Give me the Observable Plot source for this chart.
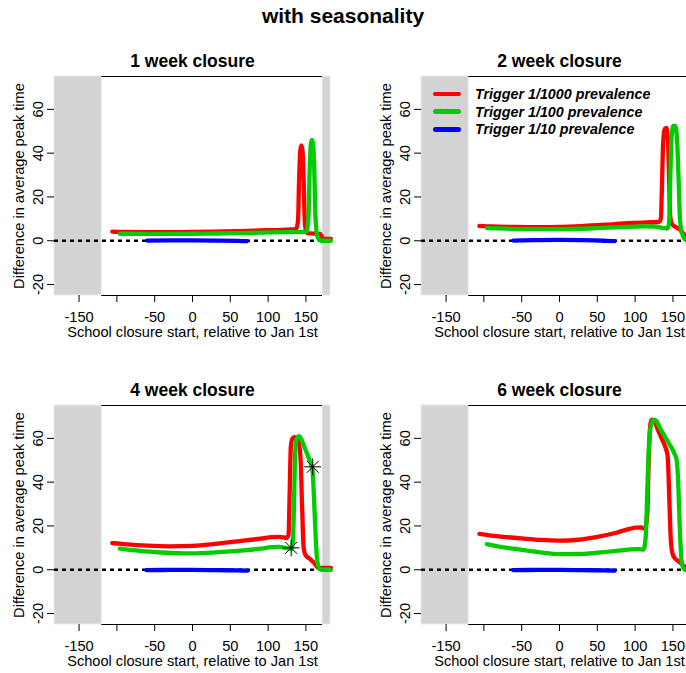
<!DOCTYPE html>
<html><head><meta charset="utf-8">
<script src="https://cdn.jsdelivr.net/npm/d3@7"></script>
<script src="https://cdn.jsdelivr.net/npm/@observablehq/plot@0.6"></script>
<style>
body{margin:0;background:#fff;}
#wrap{position:relative;width:686px;height:673px;overflow:hidden;background:#fff;font-family:"Liberation Sans",Arial,Helvetica,sans-serif;color:#000;}
.panel{position:absolute;}
#title{position:absolute;left:0;width:686px;top:5px;text-align:center;font-weight:bold;font-size:21px;line-height:21px;}
#legend{position:absolute;left:433px;top:85px;}
.lg{display:flex;align-items:center;height:17.8px;}
.sw{width:28px;height:4.5px;border-radius:2.5px;margin-right:14px;}
.lt{font-weight:bold;font-style:italic;font-size:14.3px;white-space:nowrap;}
</style></head><body>
<div id="wrap"><div id="title">with seasonality</div></div>
<script>
// ---- text / categories ----
const panelTitles = ["1 week closure", "2 week closure", "4 week closure", "6 week closure"];
const seriesNames = ["Trigger 1/1000 prevalence", "Trigger 1/100 prevalence", "Trigger 1/10 prevalence"];
const seriesColors = ["#ff0000", "#00cd00", "#0000ff"];
const xLabel = "School closure start, relative to Jan 1st";
const yLabel = "Difference in average peak time";
const xTicks = [-150, -100, -50, 0, 50, 100, 150];
const xTickLabels = ["-150", "", "-50", "0", "50", "100", "150"];
const yTicks = [-20, 0, 20, 40, 60];
const xDomain = [-182.5, 182.5];
const yDomain = [-25, 75];
const shadeLeft = [-182.5, -120];
const shadeRight = [172, 182.5];

// ---- 1 week closure ----
const red1 = [[-106,4.2],[-90,4.0],[-60,3.9],[-30,3.9],[0,4.0],[30,4.2],[60,4.4],[90,4.7],[120,5.0],[137,5.3],[139.5,9],[141,28],[142.5,41],[144,43.5],[145.5,41],[147,28],[148.5,9],[150.5,4],[153,3.4],[160,3.3],[169,3.1],[172,1.2],[176,0.9],[183,0.9]];
const green1 = [[-96,3.2],[-60,3.1],[-30,3.1],[0,3.2],[30,3.3],[60,3.5],[90,3.7],[120,3.9],[145,4.0],[151,4.3],[153.5,12],[155,33],[156.5,44],[158,46],[159.5,44],[161,33],[162.5,12],[164.5,3],[167,0.6],[170,0],[183,0]];
const blue1 = [[-60,0.1],[-30,0.2],[0,0.2],[30,0.1],[60,-0.1],[72,-0.2]];

// ---- 2 week closure ----
const red2 = [[-106,6.8],[-90,6.5],[-60,6.3],[-30,6.2],[0,6.3],[30,6.7],[60,7.3],[90,8.0],[115,8.4],[131,8.5],[134,10],[135.5,25],[137,44],[139,51],[141.5,51.5],[143.5,46],[145,28],[146.5,11],[149,7.5],[155,6],[160,4.8],[165,2.8],[170,1.2]];
const green2 = [[-96,5.8],[-70,5.5],[-40,5.3],[0,5.3],[40,5.6],[80,6.2],[110,6.6],[125,6.5],[138,5.8],[143,5.6],[145,9],[146.5,28],[148,46],[150.5,52.5],[153,52.5],[155.5,46],[157.5,28],[159.5,9],[162,3.5],[166,0.6],[170,0],[183,0]];
const blue2 = [[-61,0.1],[-30,0.3],[0,0.4],[30,0.3],[60,0],[73,-0.2]];

// ---- 4 week closure ----
const red4 = [[-106,12.2],[-90,11.7],[-60,11.0],[-30,10.7],[0,10.9],[30,11.8],[60,13.0],[90,14.2],[105,14.9],[115,15.0],[124,14.5],[127,16],[128.5,35],[130,56],[132,59.8],[135,60.5],[138,60],[141,57],[143,50],[145,28],[147,10],[149,7],[155,5],[161,3],[165,1.2],[168,0.8],[183,0.8]];
const green4 = [[-96,9.6],[-80,9.0],[-50,8.1],[-20,7.6],[0,7.5],[30,7.9],[60,8.6],[90,9.6],[105,10.3],[115,10.4],[125,9.8],[131,9.6],[133,14],[134.5,35],[136,55],[138,60],[141,61],[144,59.5],[148,56],[152,52.5],[156,49],[158.5,46],[160,38],[162,22],[164,8],[166,2],[168,0.3],[172,0],[183,0]];
const blue4 = [[-61,-0.2],[-30,-0.1],[0,-0.1],[30,-0.2],[60,-0.3],[73,-0.4]];
const stars4 = [[130.5,10],[159,47]];

// ---- 6 week closure ----
const red6 = [[-106,16.4],[-90,15.6],[-70,14.9],[-50,14.3],[-25,13.6],[0,13.3],[25,13.7],[50,15.0],[75,16.9],[90,18.4],[100,19.2],[108,19.3],[113,18.6],[116,25],[118,50],[120,66],[122,68.5],[125,68],[130,64],[135,60],[140,56],[143,52],[145,35],[147,15],[149,8],[152,5.5],[157,4],[162,2.5],[168,0.5]];
const green6 = [[-96,11.7],[-80,10.6],[-50,9.1],[-25,7.9],[0,7.1],[25,7.2],[50,7.8],[75,8.6],[95,9.3],[105,9.4],[111,9.2],[114,15],[116,35],[118,55],[121,66],[125,68.5],[128,68],[134,64],[140,60.5],[146,57],[152,53],[155,50],[157,40],[159,20],[161,6],[163,1.5],[166,0]];
const blue6 = [[-61,-0.2],[-30,-0.1],[0,-0.1],[30,-0.2],[60,-0.3],[73,-0.4]];

const panels = [
  {title: panelTitles[0], series: [red1, green1, blue1], stars: []},
  {title: panelTitles[1], series: [red2, green2, blue2], stars: []},
  {title: panelTitles[2], series: [red4, green4, blue4], stars: stars4},
  {title: panelTitles[3], series: [red6, green6, blue6], stars: []}
];
const layout = [[0, 40], [367, 40], [0, 369], [367, 369]];

const wrap = document.getElementById("wrap");
const fam = "'Liberation Sans', Arial, Helvetica, sans-serif";

panels.forEach((p, i) => {
  const marks = [
    Plot.rect([shadeLeft, shadeRight], {x1: d => d[0], x2: d => d[1], fill: "#d3d3d3", stroke: "#ececec", strokeWidth: 1}),
    Plot.ruleY([yDomain[0], yDomain[1]], {x1: shadeLeft[1], x2: shadeRight[0], stroke: "#000", strokeWidth: 1}),
    Plot.ruleY([0], {stroke: "#000", strokeWidth: 2.5, strokeDasharray: "4,4"}),
    ...p.series.map((s, k) => Plot.line(s, {x: d => d[0], y: d => d[1], stroke: seriesColors[k], strokeWidth: 4.3, curve: "monotone-x", strokeLinecap: "round", strokeLinejoin: "round"})),
    Plot.dot(p.stars, {x: d => d[0], y: d => d[1], symbol: "plus", r: 5.5, stroke: "#000", strokeWidth: 1}),
    Plot.dot(p.stars, {x: d => d[0], y: d => d[1], symbol: "times", r: 5.5, stroke: "#000", strokeWidth: 1}),
    Plot.axisX({ticks: xTicks, tickFormat: d => xTickLabels[xTicks.indexOf(d)], tickSize: 7, tickPadding: 9, label: xLabel, labelAnchor: "center", labelOffset: 41, labelArrow: "none"}),
    Plot.axisY({ticks: yTicks, tickFormat: d => String(d), tickSize: 7, tickRotate: -90, tickPadding: 5, label: yLabel, labelAnchor: "center", labelOffset: 40.5, labelArrow: "none"}),
    Plot.text([p.title], {frameAnchor: "top", lineAnchor: "bottom", dy: -10, fontSize: 17.5, fontWeight: "bold"})
  ];
  const svg = Plot.plot({
    width: 343, height: 300,
    marginLeft: 54, marginRight: 13, marginTop: 36, marginBottom: 45,
    x: {domain: xDomain},
    y: {domain: yDomain},
    style: {fontSize: "14.6px", fontFamily: fam, color: "#000", background: "transparent", overflow: "visible"},
    marks
  });
  svg.classList.add("panel");
  svg.style.position = "absolute";
  svg.style.left = layout[i][0] + "px";
  svg.style.top = layout[i][1] + "px";
  wrap.appendChild(svg);
});

// legend (in panel 2)
const legend = document.createElement("div");
legend.id = "legend";
seriesNames.forEach((name, k) => {
  const row = document.createElement("div");
  row.className = "lg";
  const sw = document.createElement("div");
  sw.className = "sw";
  sw.style.background = seriesColors[k];
  const t = document.createElement("span");
  t.className = "lt";
  t.textContent = name;
  row.appendChild(sw); row.appendChild(t);
  legend.appendChild(row);
});
wrap.appendChild(legend);
</script>
</body></html>
